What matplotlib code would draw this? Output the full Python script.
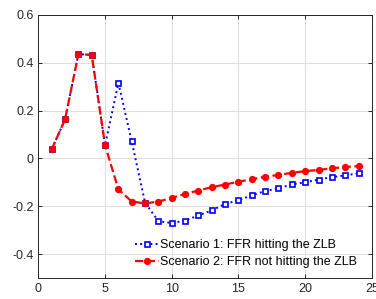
import matplotlib
matplotlib.use('Agg')
import matplotlib.pyplot as plt
import numpy as np

plt.rcParams['font.family'] = ['Liberation Sans', 'DejaVu Sans']

periods = np.arange(1, 25)
# Scenario 1: FFR hitting the ZLB
zlb = [0.038, 0.163, 0.436, 0.433, 0.055, 0.316, 0.071, -0.185, -0.262, -0.27,
       -0.26, -0.238, -0.217, -0.19, -0.175, -0.154, -0.136, -0.125, -0.108, -0.1,
       -0.088, -0.078, -0.071, -0.062]
# Scenario 2: FFR not hitting the ZLB
no_zlb = [0.038, 0.163, 0.436, 0.433, 0.055, -0.129, -0.18, -0.188, -0.18, -0.165,
          -0.148, -0.134, -0.12, -0.109, -0.097, -0.087, -0.076, -0.069, -0.06, -0.053,
          -0.048, -0.041, -0.036, -0.032]
labels = ['Scenario 1: FFR hitting the ZLB', 'Scenario 2: FFR not hitting the ZLB']

fig = plt.figure(figsize=(3.76, 2.99), dpi=100)
ax = fig.add_axes([0.102, 0.070, 0.887, 0.880])

ax.plot(periods, zlb, ':', color='#0000ff', lw=1.4, marker='s', ms=3.6,
        mfc='white', mec='#0000ff', mew=1.2, label=labels[0])
ax.plot(periods, no_zlb, '--', color='#ff0000', lw=1.6, marker='o', ms=4.2,
        mfc='#ff0000', mec='#ff0000', label=labels[1])

ax.set_xlim(0, 25)
ax.set_ylim(-0.5, 0.6)
ax.set_xticks(np.arange(0, 26, 5))
ax.set_yticks([-0.4, -0.2, 0, 0.2, 0.4, 0.6])
ax.set_yticklabels(['-0.4', '-0.2', '0', '0.2', '0.4', '0.6'])
ax.grid(True, color='#e0e0e0', lw=0.8)
ax.set_axisbelow(True)
ax.tick_params(direction='in', top=True, right=True, length=3, labelsize=9,
               colors='#262626', width=0.7)
for s in ax.spines.values():
    s.set_color('#262626')
    s.set_linewidth(0.7)

ax.legend(loc='lower right', bbox_to_anchor=(0.983, 0.005), frameon=False, fontsize=9,
          handlelength=1.9, handletextpad=0.1, labelspacing=0.4, borderpad=0.2)

fig.savefig('out.png', dpi=100)
